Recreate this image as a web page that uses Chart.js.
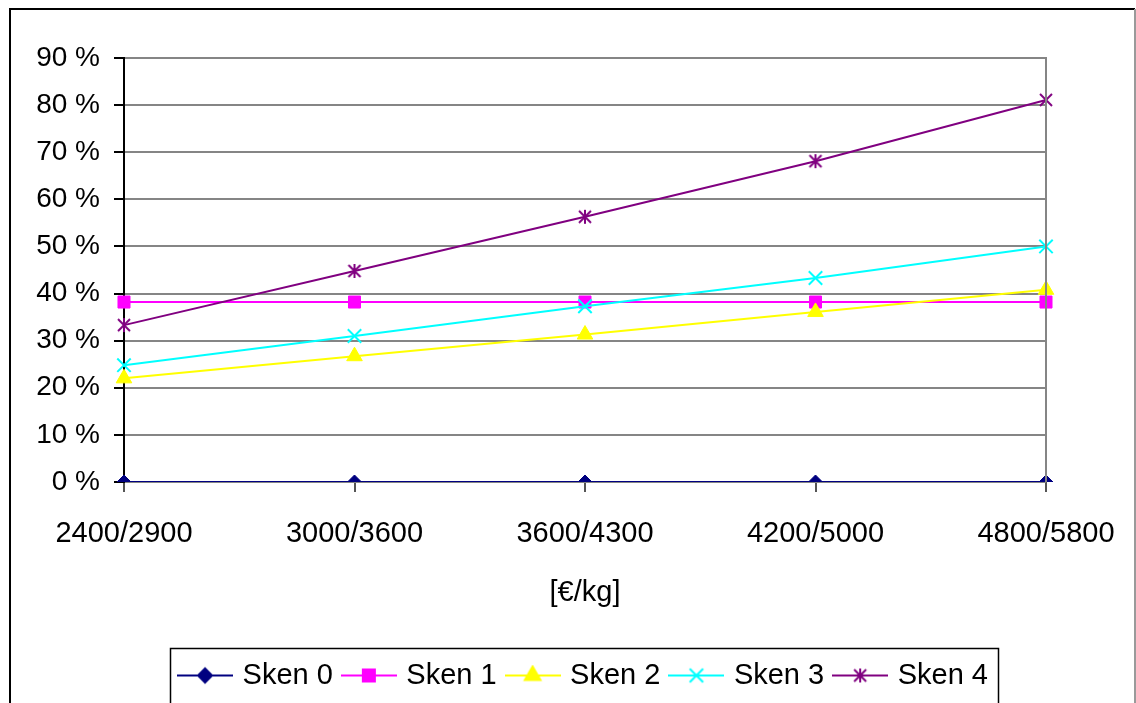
<!DOCTYPE html>
<html>
<head>
<meta charset="utf-8">
<script src="https://cdn.jsdelivr.net/npm/chart.js@4/dist/chart.umd.min.js"></script>
<style>
  html, body { margin: 0; padding: 0; background: #fff; }
  #wrap { width: 1136px; height: 703px; }
</style>
</head>
<body>
<div id="wrap"><canvas id="c" width="1136" height="703"></canvas></div>
<script>
// Price ranges on the x axis and share per scenario (percent)
const categories = ['2400/2900', '3000/3600', '3600/4300', '4200/5000', '4800/5800'];
const seriesNames = ['Sken 0', 'Sken 1', 'Sken 2', 'Sken 3', 'Sken 4'];
const sken0 = [0, 0, 0, 0, 0];
const sken1 = [38.2, 38.2, 38.2, 38.2, 38.2];
const sken2 = [22.0, 26.7, 31.3, 36.1, 40.8];
const sken3 = [24.8, 31.0, 37.3, 43.3, 50.0];
const sken4 = [33.3, 44.8, 56.3, 68.1, 81.1];
const yMin = 0, yMax = 90, yStep = 10;
const xTitle = '[€/kg]';

const FONT = "'Liberation Sans', Arial, sans-serif";
const colors = ['#000080', '#ff00ff', '#ffff00', '#00ffff', '#800080'];

// asterisk marker: an X with a vertical stroke
function starImage(color) {
  const c = document.createElement('canvas');
  c.width = 16; c.height = 16;
  const g = c.getContext('2d');
  g.strokeStyle = color; g.lineWidth = 2;
  g.beginPath();
  g.moveTo(8, 1); g.lineTo(8, 15);
  g.moveTo(2, 2); g.lineTo(14, 14);
  g.moveTo(14, 2); g.lineTo(2, 14);
  g.stroke();
  return c;
}
const starMarker = starImage(colors[4]);

const markers = [
  { pointStyle: 'rectRot', radius: 7 },
  { pointStyle: 'rect', radius: 8.5 },
  { pointStyle: 'triangle', radius: 9 },
  { pointStyle: 'crossRot', radius: 9.5 },
  { pointStyle: starMarker, radius: 8 }
];

// legend symbol: short line with the series marker in the middle
function legendSymbol(i) {
  const c = document.createElement('canvas');
  c.width = 56; c.height = 22;
  const g = c.getContext('2d');
  g.strokeStyle = colors[i]; g.fillStyle = colors[i]; g.lineWidth = 2;
  g.beginPath(); g.moveTo(0, 11); g.lineTo(56, 11); g.stroke();
  const m = markers[i];
  if (typeof m.pointStyle === 'string') {
    Chart.helpers.drawPoint(g, { pointStyle: m.pointStyle, radius: m.radius, rotation: 0, borderWidth: i === 3 ? 2 : 1 }, 28, 11);
  } else {
    g.drawImage(m.pointStyle, 20, 3);
  }
  return c;
}

const values = [sken0, sken1, sken2, sken3, sken4];
const datasets = values.map((v, i) => ({
  label: seriesNames[i],
  data: v,
  borderColor: colors[i],
  backgroundColor: colors[i],
  borderWidth: 2,
  pointStyle: markers[i].pointStyle,
  pointRadius: markers[i].radius,
  pointHoverRadius: markers[i].radius,
  pointBorderWidth: i === 3 ? 2 : 1,
  pointBackgroundColor: colors[i],
  pointBorderColor: colors[i],
  tension: 0,
  fill: false,
  order: values.length - i
}));

const frame = {
  id: 'frame',
  beforeDraw(chart) {
    const ctx = chart.ctx;
    ctx.save();
    ctx.fillStyle = '#fff';
    ctx.fillRect(0, 0, chart.width, chart.height);
    ctx.lineWidth = 2;
    ctx.strokeStyle = '#000';
    ctx.beginPath();
    ctx.moveTo(10, chart.height + 5); ctx.lineTo(10, 9); ctx.lineTo(1135, 9);
    ctx.stroke();
    ctx.strokeStyle = '#9a9a9a';
    ctx.beginPath();
    ctx.moveTo(1135, 9); ctx.lineTo(1135, chart.height + 5);
    ctx.stroke();
    ctx.restore();
  },
  afterDraw(chart) {
    const ctx = chart.ctx;
    const a = chart.chartArea;
    ctx.save();
    // right edge of the plot area
    ctx.strokeStyle = '#858585';
    ctx.lineWidth = 2;
    ctx.beginPath();
    ctx.moveTo(a.right, a.top - 1); ctx.lineTo(a.right, a.bottom);
    ctx.stroke();
    // box around the legend
    const lg = chart.legend;
    if (lg && lg.legendHitBoxes && lg.legendHitBoxes.length) {
      const hb = lg.legendHitBoxes;
      const left = hb[0].left - 12;
      const last = hb[hb.length - 1];
      const right = last.left + last.width + 10;
      const mid = hb[0].top + hb[0].height / 2;
      ctx.strokeStyle = '#000';
      ctx.lineWidth = 1.5;
      ctx.strokeRect(Math.round(left) + 0.5, Math.round(mid - 28) + 0.5, Math.round(right - left), 56);
    }
    ctx.restore();
  }
};

new Chart(document.getElementById('c'), {
  type: 'line',
  data: { labels: categories, datasets },
  plugins: [frame],
  options: {
    responsive: false,
    animation: false,
    events: [],
    layout: { padding: { left: 0, top: 58, right: 90, bottom: 3 } },
    scales: {
      x: {
        offset: false,
        afterFit(s) { s.height = 166; s.paddingLeft = 0; s.paddingRight = 0; },
        grid: { drawOnChartArea: false, drawTicks: true, tickLength: 10, tickColor: '#555', lineWidth: 2 },
        border: { display: false },
        ticks: { color: '#000', font: { family: FONT, size: 29 }, padding: 25, maxRotation: 0, autoSkip: false },
        title: { display: true, text: xTitle, color: '#000', font: { family: FONT, size: 29 }, padding: { top: 0, bottom: 38 } }
      },
      y: {
        min: yMin, max: yMax,
        afterFit(s) { s.width = 124; },
        grid: { color: '#858585', lineWidth: 2, drawTicks: true, tickLength: 10, tickColor: '#000' },
        border: { display: true, color: '#000', width: 2 },
        ticks: {
          stepSize: yStep,
          color: '#000',
          font: { family: FONT, size: 28 },
          padding: 14,
          callback: v => v + ' %'
        }
      }
    },
    plugins: {
      tooltip: { enabled: false },
      legend: {
        position: 'bottom',
        fullSize: false,
        labels: {
          usePointStyle: true,
          pointStyleWidth: 46,
          padding: 13,
          color: '#000',
          font: { family: FONT, size: 29 },
          sort: (a, b) => a.datasetIndex - b.datasetIndex,
          generateLabels(chart) {
            const items = Chart.defaults.plugins.legend.labels.generateLabels(chart);
            items.forEach(it => { it.pointStyle = legendSymbol(it.datasetIndex); });
            return items;
          }
        }
      }
    }
  }
});
</script>
</body>
</html>
